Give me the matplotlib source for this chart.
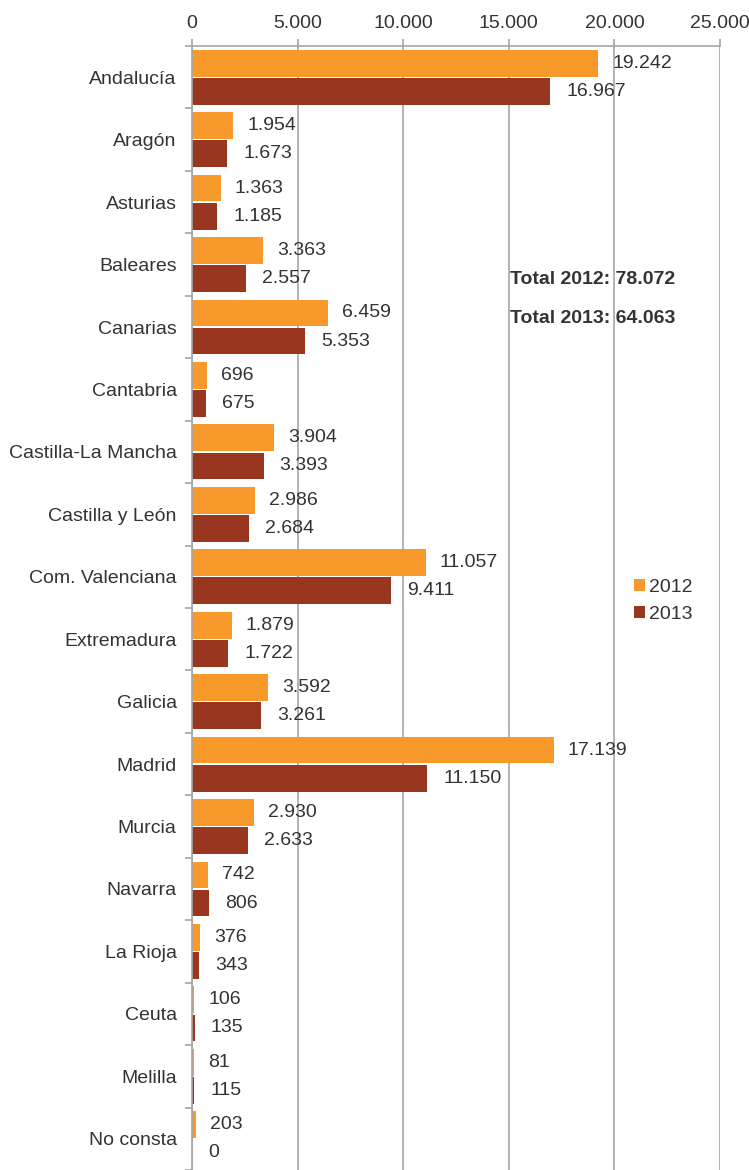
import matplotlib
matplotlib.use("Agg")
import numpy as np
import matplotlib.pyplot as plt

regions = ["Andalucía", "Aragón", "Asturias", "Baleares", "Canarias", "Cantabria",
           "Castilla-La Mancha", "Castilla y León", "Com. Valenciana", "Extremadura",
           "Galicia", "Madrid", "Murcia", "Navarra", "La Rioja", "Ceuta", "Melilla",
           "No consta"]
v2012 = [19242, 1954, 1363, 3363, 6459, 696, 3904, 2986, 11057, 1879, 3592, 17139,
         2930, 742, 376, 106, 81, 203]
v2013 = [16967, 1673, 1185, 2557, 5353, 675, 3393, 2684, 9411, 1722, 3261, 11150,
         2633, 806, 343, 135, 115, 0]
xticks = [0, 5000, 10000, 15000, 20000, 25000]
totals = ["Total 2012: 78.072", "Total 2013: 64.063"]

c12 = "#F7992B"
c13 = "#983620"
txt = "#333333"
grid = "#A6A6A6"

plt.rcParams['font.family'] = ['Liberation Sans', 'DejaVu Sans']
fs = 14

def fmt(v):
    return f"{v:,}".replace(",", ".")

W, H = 749, 1170
fig = plt.figure(figsize=(W / 100, H / 100), dpi=100)
x0, x1 = 192, 720
ytop = 46
ax = fig.add_axes([x0 / W, 0, (x1 - x0) / W, (H - ytop) / H])

band = 62.7
y = np.arange(len(regions))
h = 0.43
gap = 0.225
ax.barh(y - gap, v2012, height=h, color=c12, label="2012")
ax.barh(y + gap, v2013, height=h, color=c13, label="2013")

for i in range(len(regions)):
    ax.annotate(fmt(v2012[i]), (v2012[i], y[i] - gap), xytext=(14, 0),
                textcoords="offset pixels", va="center", ha="left", fontsize=fs, color=txt)
    ax.annotate(fmt(v2013[i]), (v2013[i], y[i] + gap), xytext=(16, 0),
                textcoords="offset pixels", va="center", ha="left", fontsize=fs, color=txt)

ax.set_xlim(0, 25000)
ax.set_ylim(-0.5 + (H - ytop) / band, -0.5)
ax.xaxis.tick_top()
ax.set_xticks(xticks)
ax.set_xticklabels([fmt(t) for t in xticks], fontsize=fs, color=txt)
ax.tick_params(axis="x", length=5, color=grid, width=1.2, pad=5)
ax.grid(axis="x", color=grid, linewidth=1.2)
ax.set_axisbelow(True)

ax.set_yticks(y)
ax.set_yticklabels(regions, fontsize=fs, color=txt)
ax.set_yticks(np.arange(len(regions) + 1) - 0.5, minor=True)
ax.tick_params(axis="y", which="major", length=0, pad=11)
ax.tick_params(axis="y", which="minor", length=5, color=grid, width=1.2)

for s in ["right", "bottom"]:
    ax.spines[s].set_visible(False)
for s in ["left", "top"]:
    ax.spines[s].set_color(grid)
    ax.spines[s].set_linewidth(1.2)

fig.text(510 / W, 1 - 279 / H, totals[0], fontsize=fs, fontweight="bold", color=txt,
         va="center", ha="left")
fig.text(510 / W, 1 - 319 / H, totals[1], fontsize=fs, fontweight="bold", color=txt,
         va="center", ha="left")

leg = ax.legend(loc="center left", bbox_to_anchor=(616 / W, 1 - 601 / H),
                bbox_transform=fig.transFigure, frameon=False, fontsize=fs,
                handlelength=0.6, handleheight=0.6, handletextpad=0.2, labelspacing=0.5)
for t in leg.get_texts():
    t.set_color(txt)

fig.savefig("out.png", dpi=100, facecolor="white")
